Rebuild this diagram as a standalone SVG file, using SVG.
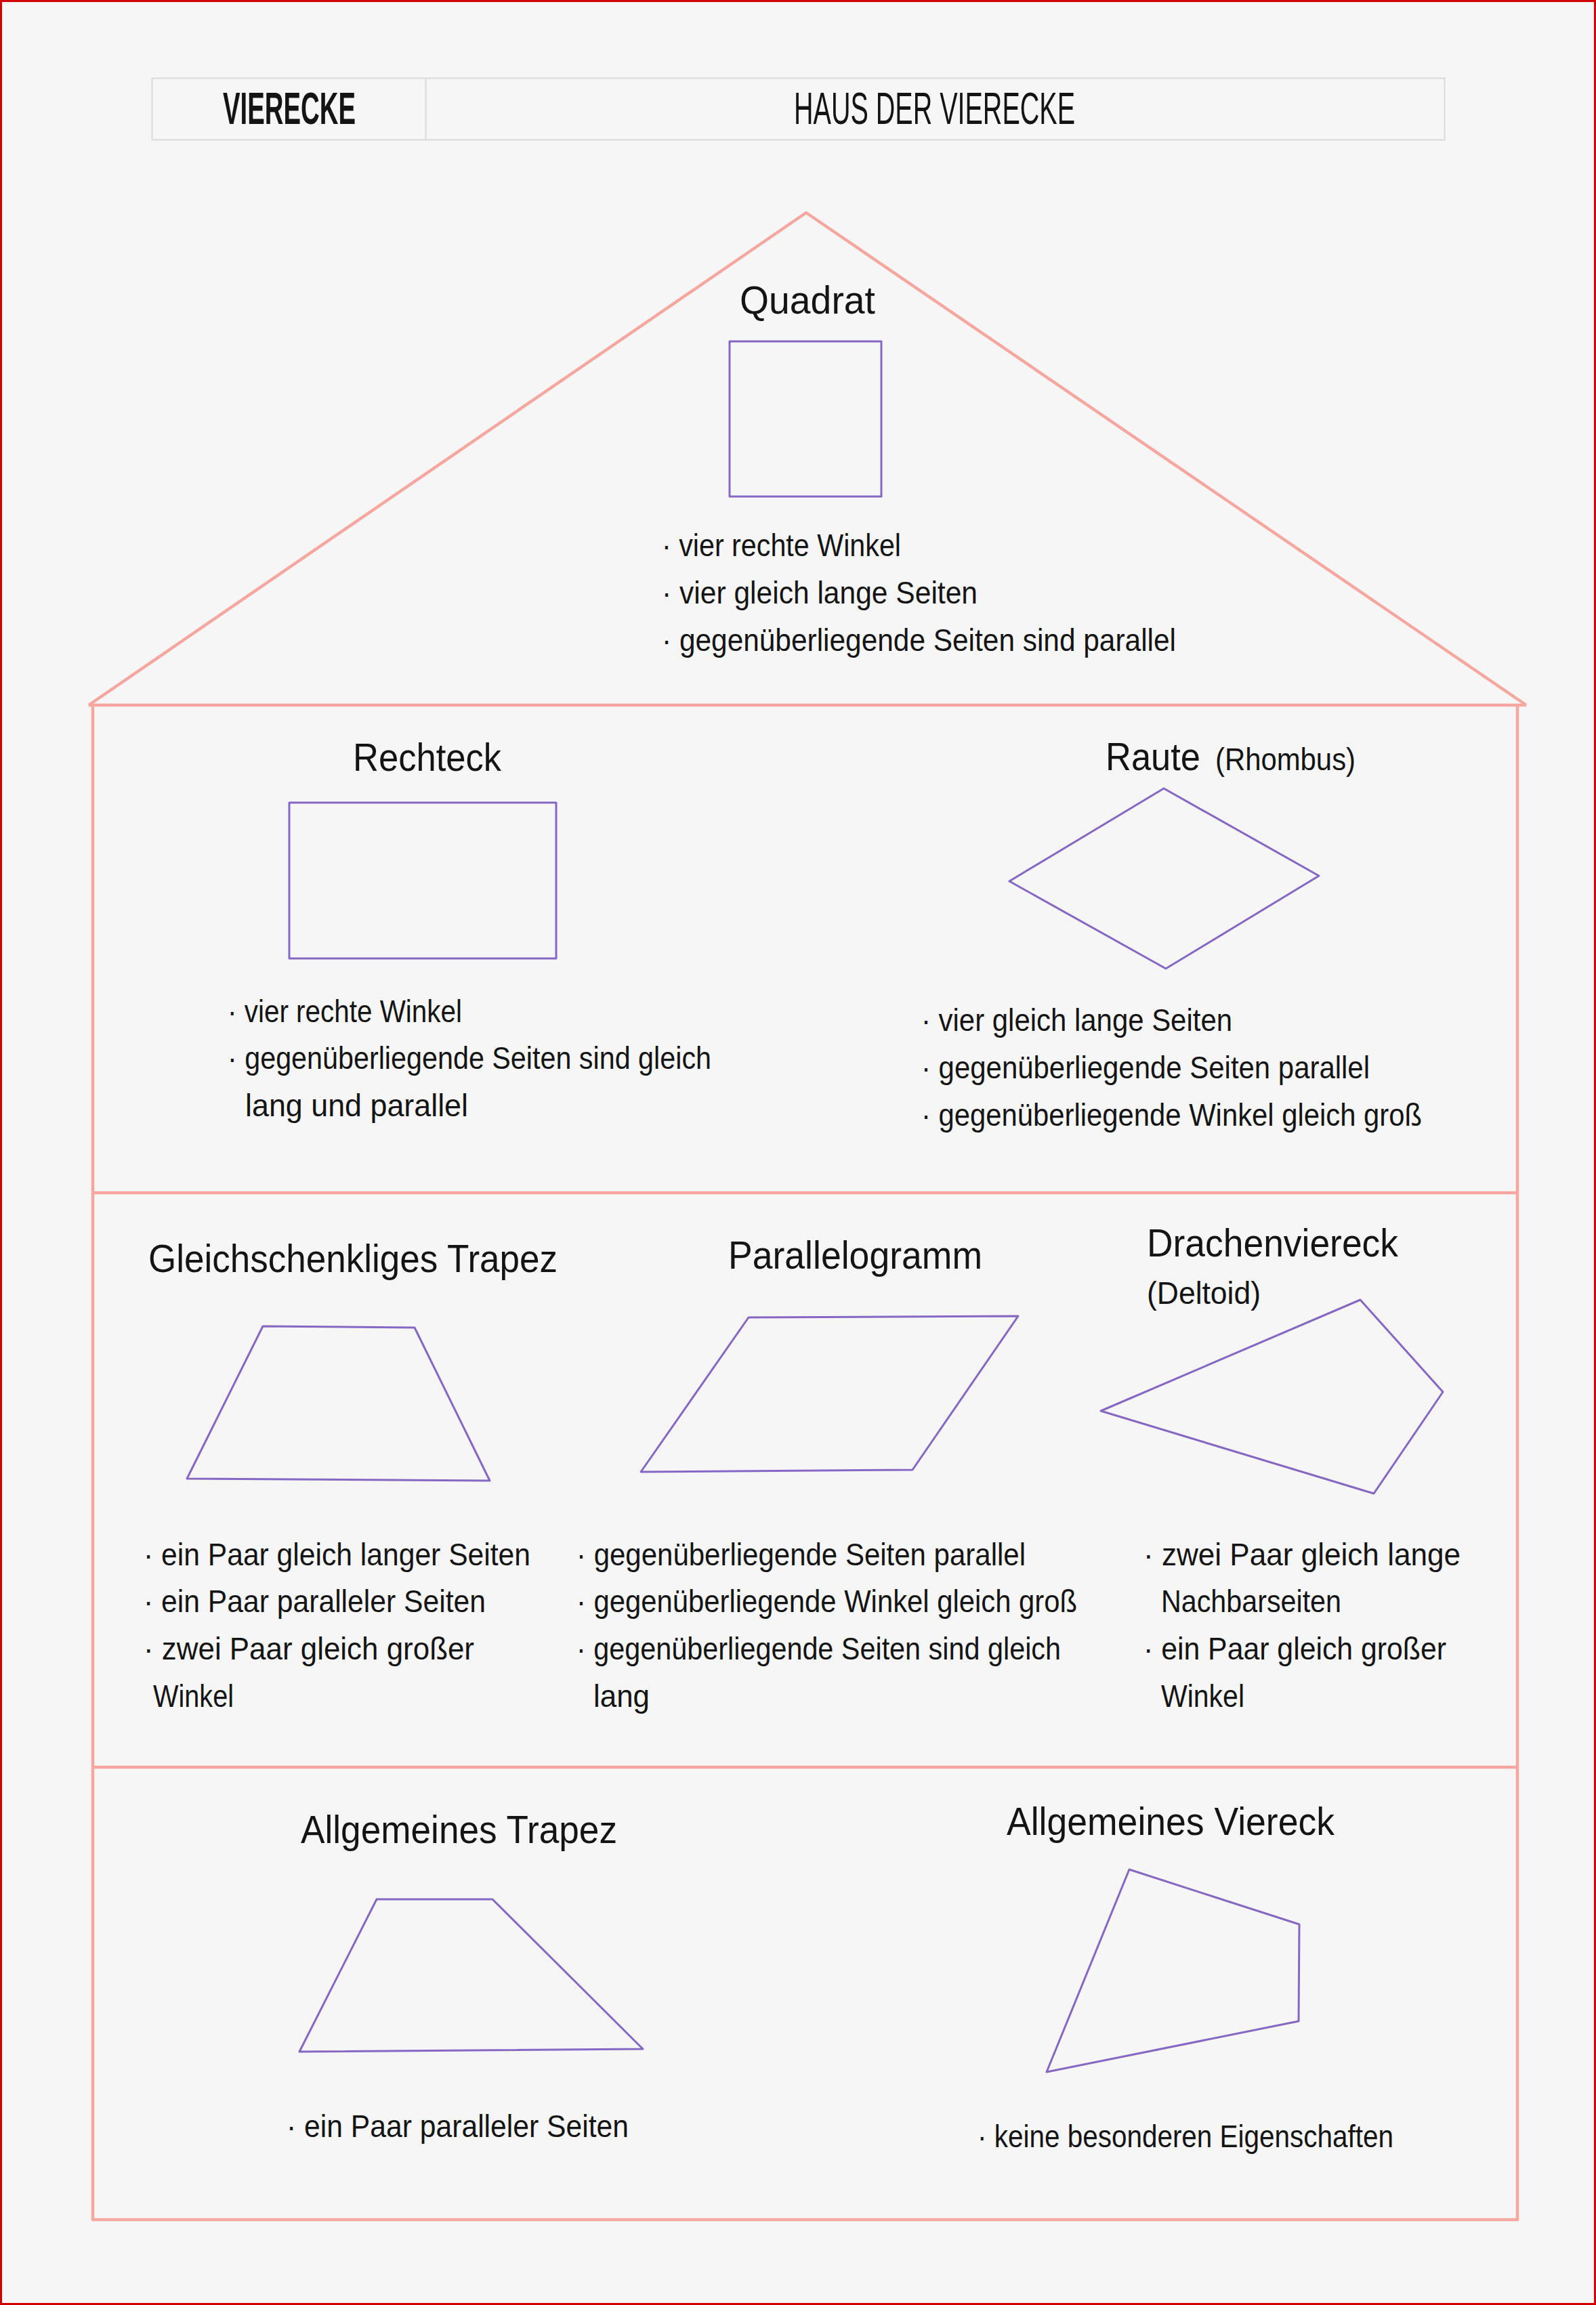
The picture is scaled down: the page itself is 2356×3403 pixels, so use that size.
<svg xmlns="http://www.w3.org/2000/svg" width="2356" height="3403" viewBox="0 0 2356 3403">
<style>
.t{font-family:"Liberation Sans","DejaVu Sans",sans-serif;fill:#141414;}
.ti{font-size:57px;}
.sm{font-size:46px;}
.b{font-size:46px;}
.hd{font-size:66px;}
.house{fill:none;stroke:#f7a79f;stroke-width:4.5;stroke-linejoin:round;}
.shape{fill:none;stroke:#8567c4;stroke-width:3;stroke-linejoin:round;}
</style>
<rect x="0" y="0" width="2356" height="3403" fill="#f6f6f6"/>
<rect x="1.5" y="1.5" width="2353" height="3400" fill="none" stroke="#d40000" stroke-width="3"/>

<g id="header">
<rect x="224.5" y="115.5" width="1908" height="91" fill="none" stroke="#d9d9d9" stroke-width="2"/>
<line x1="628.5" y1="115.5" x2="628.5" y2="206.5" stroke="#d9d9d9" stroke-width="2"/>
<text class="t hd" x="329" y="183" font-weight="bold" textLength="196" lengthAdjust="spacingAndGlyphs">VIERECKE</text>
<text class="t hd" x="1172" y="183" textLength="415" lengthAdjust="spacingAndGlyphs">HAUS DER VIERECKE</text>
</g>

<g id="house">
<polyline class="house" points="131,1041 1190,314 2253,1041"/>
<line class="house" x1="131" y1="1041" x2="2253" y2="1041"/>
<polyline class="house" points="137,1041 137,3277 2240,3277 2240,1041"/>
<line class="house" x1="137" y1="1761" x2="2240" y2="1761"/>
<line class="house" x1="137" y1="2609" x2="2240" y2="2609"/>
</g>

<g id="quadrat">
<text class="t ti" x="1092" y="463" textLength="200" lengthAdjust="spacingAndGlyphs">Quadrat</text>
<rect class="shape" x="1077" y="504" width="224" height="229"/>
<text class="t b" x="977" y="821" textLength="353" lengthAdjust="spacingAndGlyphs">· vier rechte Winkel</text>
<text class="t b" x="977" y="891" textLength="466" lengthAdjust="spacingAndGlyphs">· vier gleich lange Seiten</text>
<text class="t b" x="977" y="961" textLength="759" lengthAdjust="spacingAndGlyphs">· gegenüberliegende Seiten sind parallel</text>
</g>

<g id="rechteck">
<text class="t ti" x="521" y="1138" textLength="219" lengthAdjust="spacingAndGlyphs">Rechteck</text>
<rect class="shape" x="427" y="1185" width="394" height="230"/>
<text class="t b" x="336" y="1509" textLength="346" lengthAdjust="spacingAndGlyphs">· vier rechte Winkel</text>
<text class="t b" x="336" y="1578" textLength="714" lengthAdjust="spacingAndGlyphs">· gegenüberliegende Seiten sind gleich</text>
<text class="t b" x="362" y="1648" textLength="329" lengthAdjust="spacingAndGlyphs">lang und parallel</text>
</g>

<g id="raute">
<text class="t ti" x="1632" y="1137" textLength="140" lengthAdjust="spacingAndGlyphs">Raute</text>
<text class="t sm" x="1794" y="1137" textLength="207" lengthAdjust="spacingAndGlyphs">(Rhombus)</text>
<polygon class="shape" points="1718,1164 1947,1293 1721,1430 1490,1301"/>
<text class="t b" x="1360" y="1522" textLength="459" lengthAdjust="spacingAndGlyphs">· vier gleich lange Seiten</text>
<text class="t b" x="1360" y="1592" textLength="662" lengthAdjust="spacingAndGlyphs">· gegenüberliegende Seiten parallel</text>
<text class="t b" x="1360" y="1662" textLength="739" lengthAdjust="spacingAndGlyphs">· gegenüberliegende Winkel gleich groß</text>
</g>

<g id="gleichschenkliges-trapez">
<text class="t ti" x="219" y="1878" textLength="604" lengthAdjust="spacingAndGlyphs">Gleichschenkliges Trapez</text>
<polygon class="shape" points="388,1958 612,1960 723,2186 276,2183"/>
<text class="t b" x="212" y="2311" textLength="571" lengthAdjust="spacingAndGlyphs">· ein Paar gleich langer Seiten</text>
<text class="t b" x="212" y="2380" textLength="505" lengthAdjust="spacingAndGlyphs">· ein Paar paralleler Seiten</text>
<text class="t b" x="212" y="2450" textLength="488" lengthAdjust="spacingAndGlyphs">· zwei Paar gleich großer</text>
<text class="t b" x="226" y="2520" textLength="119" lengthAdjust="spacingAndGlyphs">Winkel</text>
</g>

<g id="parallelogramm">
<text class="t ti" x="1075" y="1873" textLength="375" lengthAdjust="spacingAndGlyphs">Parallelogramm</text>
<polygon class="shape" points="1105,1945 1503,1943 1347,2170 946,2173"/>
<text class="t b" x="851" y="2311" textLength="663" lengthAdjust="spacingAndGlyphs">· gegenüberliegende Seiten parallel</text>
<text class="t b" x="851" y="2380" textLength="739" lengthAdjust="spacingAndGlyphs">· gegenüberliegende Winkel gleich groß</text>
<text class="t b" x="851" y="2450" textLength="715" lengthAdjust="spacingAndGlyphs">· gegenüberliegende Seiten sind gleich</text>
<text class="t b" x="876" y="2520" textLength="83" lengthAdjust="spacingAndGlyphs">lang</text>
</g>

<g id="drachenviereck">
<text class="t ti" x="1693" y="1855" textLength="371" lengthAdjust="spacingAndGlyphs">Drachenviereck</text>
<text class="t sm" x="1693" y="1925" textLength="168" lengthAdjust="spacingAndGlyphs">(Deltoid)</text>
<polygon class="shape" points="2008,1919 2130,2055 2028,2205 1625,2083"/>
<text class="t b" x="1688" y="2311" textLength="468" lengthAdjust="spacingAndGlyphs">· zwei Paar gleich lange</text>
<text class="t b" x="1714" y="2380" textLength="266" lengthAdjust="spacingAndGlyphs">Nachbarseiten</text>
<text class="t b" x="1688" y="2450" textLength="447" lengthAdjust="spacingAndGlyphs">· ein Paar gleich großer</text>
<text class="t b" x="1714" y="2520" textLength="123" lengthAdjust="spacingAndGlyphs">Winkel</text>
</g>

<g id="allgemeines-trapez">
<text class="t ti" x="444" y="2721" textLength="467" lengthAdjust="spacingAndGlyphs">Allgemeines Trapez</text>
<polygon class="shape" points="556,2804 727,2804 949,3025 442,3029"/>
<text class="t b" x="423" y="3155" textLength="505" lengthAdjust="spacingAndGlyphs">· ein Paar paralleler Seiten</text>
</g>

<g id="allgemeines-viereck">
<text class="t ti" x="1486" y="2709" textLength="484" lengthAdjust="spacingAndGlyphs">Allgemeines Viereck</text>
<polygon class="shape" points="1667,2760 1918,2841 1917,2984 1545,3059"/>
<text class="t b" x="1443" y="3170" textLength="614" lengthAdjust="spacingAndGlyphs">· keine besonderen Eigenschaften</text>
</g>
</svg>
